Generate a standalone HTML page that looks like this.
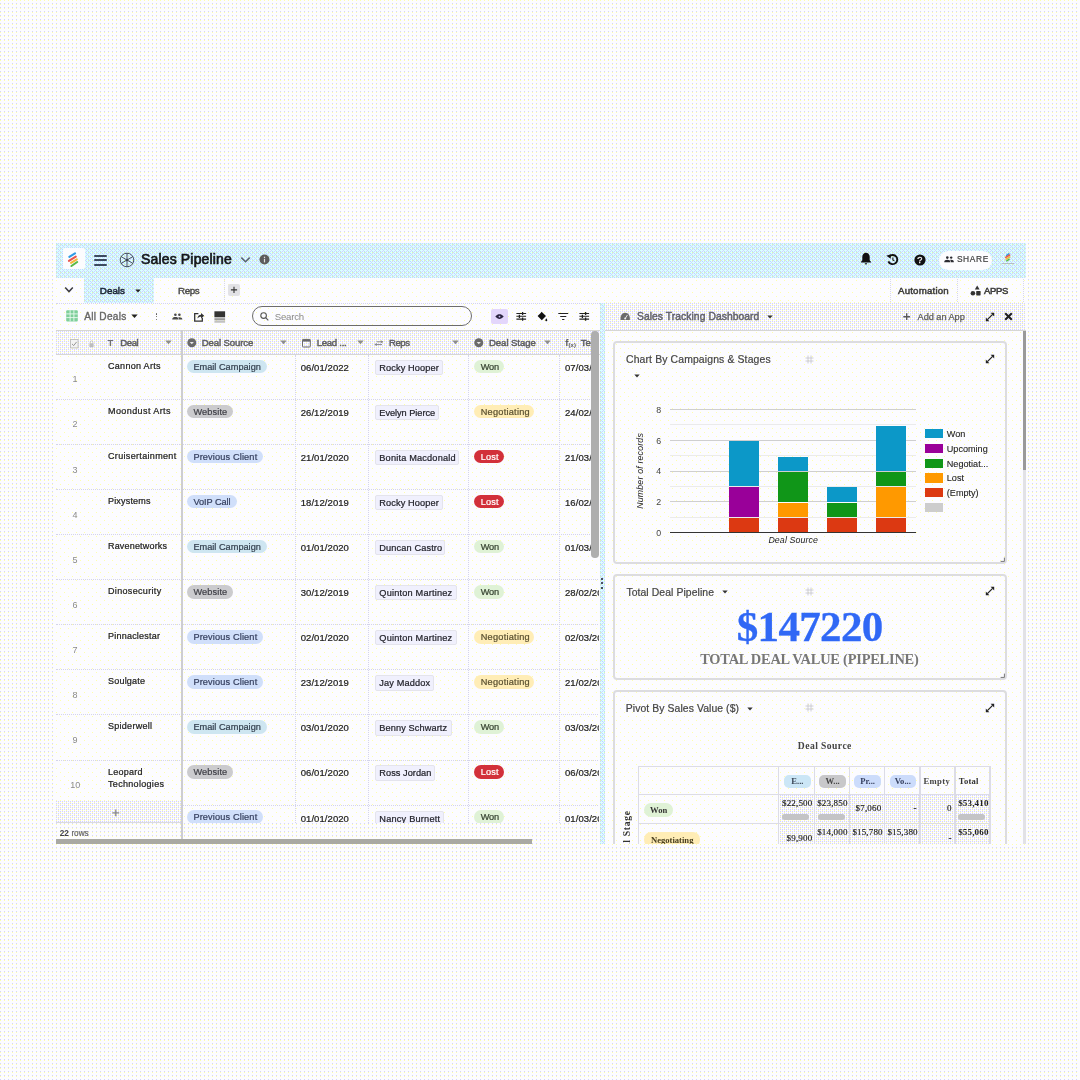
<!DOCTYPE html>
<html lang="en">
<head>
<meta charset="utf-8">
<title>Sales Pipeline</title>
<style>
html,body{margin:0;padding:0;}
body{width:1080px;height:1080px;position:relative;overflow:hidden;background:#fcfcfb;font-family:'Liberation Sans', sans-serif;}
main{position:absolute;left:0;top:0;width:1080px;height:1080px;overflow:hidden;}
main div,main svg,main .t{position:absolute;}
main svg{overflow:visible;}
.t{white-space:nowrap;margin:0;}
</style>
</head>
<body>
<main>
<svg style="left:0;top:0" width="1080" height="1080" shape-rendering="crispEdges"><defs><pattern id="pg" width="4" height="4" patternUnits="userSpaceOnUse"><rect width="4" height="4" fill="#fcfcff"/><rect x="0" y="3" width="1" height="1" fill="#d2d2ff"/><rect x="0" y="0" width="1" height="1" fill="#ffffaa"/></pattern><pattern id="hd" width="4" height="4" patternUnits="userSpaceOnUse"><rect width="4" height="4" fill="#dbffff"/><rect x="0" y="0" width="1" height="1" fill="#dbffaa"/><rect x="1" y="0" width="1" height="1" fill="#d2d2ff"/><rect x="0" y="1" width="1" height="1" fill="#d2d2ff"/><rect x="2" y="1" width="1" height="1" fill="#b6dbff"/><rect x="3" y="2" width="1" height="1" fill="#d2d2ff"/><rect x="0" y="3" width="1" height="1" fill="#b6dbff"/><rect x="2" y="3" width="1" height="1" fill="#d2d2ff"/></pattern><pattern id="ch" width="4" height="4" patternUnits="userSpaceOnUse"><rect width="4" height="4" fill="#fcfcff"/><rect x="0" y="0" width="1" height="1" fill="#ffffaa"/><rect x="0" y="1" width="1" height="1" fill="#d2d2ff"/><rect x="2" y="1" width="1" height="1" fill="#d2d2ff"/><rect x="2" y="2" width="1" height="1" fill="#ffffaa"/><rect x="0" y="3" width="1" height="1" fill="#d2d2ff"/><rect x="2" y="3" width="1" height="1" fill="#d2d2ff"/></pattern><pattern id="aw" width="8" height="8" patternUnits="userSpaceOnUse"><rect width="8" height="8" fill="#fcfcff"/><rect x="0" y="0" width="1" height="1" fill="#ffffaa"/><rect x="4" y="4" width="1" height="1" fill="#ffffaa"/></pattern></defs><rect width="1080" height="1080" fill="url(#pg)"/></svg>
<svg style="left:0;top:0" width="1080" height="1080" shape-rendering="crispEdges"><rect x="56" y="243" width="970" height="601" fill="url(#aw)"/></svg>
<header>
<svg style="left:0;top:0" width="1080" height="1080" shape-rendering="crispEdges"><rect x="56" y="243" width="970" height="35" fill="url(#hd)"/></svg>
<div style="left:63px;top:248px;width:21.5px;height:21px;background:#fcfcfe;border-radius:2px;"></div>
<svg style="left:63px;top:248px;" width="21.5" height="21" viewBox="0 0 21.5 21"><g stroke-linecap="round" stroke-width="2.1" fill="none">
<path d="M6.3 8.8L12.0 5.4" stroke="#2f9be6"/>
<path d="M5.9 12.8L12.8 8.7" stroke="#e8554d"/>
<path d="M8.0 14.8L13.8 11.3" stroke="#f4b73a"/>
<path d="M8.4 18.0L14.2 14.0" stroke="#58b947"/></g></svg>
<div style="left:93.9px;top:254.75px;width:13.4px;height:1.9px;background:#3d4a5e;border-radius:1px;"></div>
<div style="left:93.9px;top:259.05px;width:13.4px;height:1.9px;background:#3d4a5e;border-radius:1px;"></div>
<div style="left:93.9px;top:263.75px;width:13.4px;height:1.9px;background:#3d4a5e;border-radius:1px;"></div>
<svg style="left:118.5px;top:251.75px;" width="16" height="16" viewBox="0 0 16 16"><g fill="none" stroke="#3a4350" stroke-width="0.9">
<circle cx="8" cy="8" r="6.8"/><path d="M8 1.2V8M8 8L2.1 4.6M8 8L2.1 11.4M8 8V14.8M8 8L13.9 11.4M8 8L13.9 4.6"/></g><circle cx="8" cy="8" r="1.3" fill="#3a4350"/></svg>
<h1 class="t" style="left:141.00px;top:250.90px;font:400 14px 'Liberation Sans', sans-serif;line-height:16.8px;color:#14161a;letter-spacing:0.159px;-webkit-text-stroke:0.65px #14161a;">Sales Pipeline</h1>
<svg style="left:239.5px;top:255px;" width="11" height="9" viewBox="0 0 11 9"><path d="M1.3 2.6L5.5 6.8L9.7 2.6" fill="none" stroke="#5a6670" stroke-width="1.5"/></svg>
<svg style="left:259.4px;top:254.4px;" width="11" height="11" viewBox="0 0 11 11"><circle cx="5.5" cy="5.5" r="5" fill="#5c5c5c"/><rect x="4.9" y="4.8" width="1.2" height="3.6" fill="#ddd"/><rect x="4.9" y="2.7" width="1.2" height="1.3" fill="#ddd"/></svg>
<svg style="left:860px;top:252.4px;" width="11.3" height="12.2" viewBox="0 0 11.3 12.2"><path d="M6 0.8C3.7 0.8 2.3 2.7 2.3 5V8.2L0.9 9.9V10.5H11.1V9.9L9.7 8.2V5C9.7 2.7 8.3 0.8 6 0.8Z" fill="#111"/><path d="M4.8 11.2A1.2 1.2 0 0 0 7.2 11.2Z" fill="#111"/></svg>
<svg style="left:885.6px;top:253px;" width="13" height="13" viewBox="0 0 13 13"><path d="M3.4 3.3A4.6 4.6 0 1 1 2.4 8.3" fill="none" stroke="#111" stroke-width="1.9"/><path d="M0.8 1.8L5.4 2.0L3.9 6.2Z" fill="#111" transform="rotate(-20 3 3.5)"/><path d="M6.9 4.6V7L8.4 7.9" fill="none" stroke="#111" stroke-width="1.1"/></svg>
<svg style="left:913.8px;top:253.5px;" width="12" height="12" viewBox="0 0 12 12"><circle cx="6" cy="6" r="5.6" fill="#111"/></svg>
<span class="t" style="left:917.24px;top:254.80px;font:400 9.2px 'Liberation Sans', sans-serif;line-height:11.04px;color:#f4f4f4;-webkit-text-stroke:0.3px #f4f4f4;">?</span>
<div style="left:939.3px;top:250.6px;width:53px;height:19px;background:#fcfcfe;border-radius:9.5px;"></div>
<svg style="left:944.2px;top:255.8px;" width="10" height="6.4" viewBox="0 0 10 6.4"><g fill="#2a2a30"><circle cx="3.3" cy="1.6" r="1.3"/><circle cx="7.2" cy="1.6" r="1.2"/><path d="M0.2 6.2C0.2 4.5 1.6 3.8 3.3 3.8S6.4 4.5 6.4 6.2Z"/><path d="M6.9 6.2C6.9 5.1 6.6 4.5 6 4C8 3.5 9.9 4.2 9.9 6.2Z"/></g></svg>
<span class="t" style="left:956.90px;top:254.40px;font:400 8.4px 'Liberation Sans', sans-serif;line-height:10.08px;color:#404040;letter-spacing:0.635px;-webkit-text-stroke:0.2px #404040;">SHARE</span>
<svg style="left:1000.8px;top:252.3px;" width="14.2" height="13.6" viewBox="0 0 14.2 13.6"><g stroke-linecap="round" stroke-width="1.5" fill="none">
<path d="M5.6 3.4L7.8 1.8" stroke="#2f9be6"/><path d="M4.8 5.4L8.6 3" stroke="#e8554d"/>
<path d="M5 7.2L8.8 4.8" stroke="#f4b73a"/><path d="M5.8 8.8L8.2 7.2" stroke="#58b947"/></g>
<rect x="0.6" y="11" width="12.6" height="1" fill="#b4bcc4"/></svg>
</header>
<nav>
<svg style="left:0;top:0" width="1080" height="1080" shape-rendering="crispEdges"><rect x="84" y="278" width="70" height="25" fill="url(#hd)"/></svg>
<svg style="left:64.2px;top:286.4px;" width="10" height="8" viewBox="0 0 10 8"><path d="M1.2 1.6L5 5.6L8.8 1.6" fill="none" stroke="#3c3c44" stroke-width="1.5"/></svg>
<span class="t" style="left:99.80px;top:285.20px;font:400 9.8px 'Liberation Sans', sans-serif;line-height:11.76px;color:#1a2434;letter-spacing:0.034px;-webkit-text-stroke:0.5px #1a2434;">Deals</span>
<svg style="left:134.6px;top:288.6px;" width="6" height="4" viewBox="0 0 6 4"><path d="M0.3 0.4H5.7L3 3.6Z" fill="#222"/></svg>
<span class="t" style="left:178.00px;top:285.20px;font:400 9.8px 'Liberation Sans', sans-serif;line-height:11.76px;color:#4a4a4a;letter-spacing:-0.425px;-webkit-text-stroke:0.4px #4a4a4a;">Reps</span>
<div style="left:223.5px;top:279px;width:0px;height:23px;border-left:1px dotted #d8d8e8;"></div>
<div style="left:228px;top:283.8px;width:12px;height:11.8px;background:#e2e2e6;border-radius:2px;"></div>
<svg style="left:228px;top:283.8px;" width="12" height="11.8" viewBox="0 0 12 11.8"><path d="M6 2.8V9M2.9 5.9H9.1" stroke="#333" stroke-width="1.1" fill="none"/></svg>
<div style="left:890px;top:279px;width:0px;height:23px;border-left:1px dotted #d8d8e8;"></div>
<div style="left:956.5px;top:279px;width:0px;height:23px;border-left:1px dotted #d8d8e8;"></div>
<div style="left:1022.5px;top:279px;width:0px;height:23px;border-left:1px dotted #d8d8e8;"></div>
<span class="t" style="left:898.00px;top:285.30px;font:400 9.7px 'Liberation Sans', sans-serif;line-height:11.64px;color:#3c3c3c;letter-spacing:0.187px;-webkit-text-stroke:0.5px #3c3c3c;">Automation</span>
<svg style="left:970.2px;top:284.8px;" width="11.5" height="11.5" viewBox="0 0 11.5 11.5"><g fill="#333"><path d="M7.2 0.6L9.6 4.4H4.8Z"/><circle cx="2.9" cy="8.2" r="2.3"/><rect x="6.2" y="6" width="4.4" height="4.4" rx="0.6"/></g></svg>
<span class="t" style="left:984.10px;top:285.30px;font:400 9.5px 'Liberation Sans', sans-serif;line-height:11.4px;color:#3c3c3c;letter-spacing:-0.386px;-webkit-text-stroke:0.5px #3c3c3c;">APPS</span>
</nav>
<section>
<svg style="left:66px;top:310px;" width="12" height="11.6" viewBox="0 0 12 11.6"><rect x="0.2" y="0.2" width="11.6" height="11.2" rx="1" fill="#7fcf9a"/>
<g stroke="#eafaf0" stroke-width="0.9"><path d="M4.1 0.2V11.4M7.9 0.2V11.4M0.2 4V4M0.2 3.9H11.8M0.2 7.6H11.8"/></g></svg>
<span class="t" style="left:84.20px;top:311.10px;font:400 10.1px 'Liberation Sans', sans-serif;line-height:12.12px;color:#666;letter-spacing:0.284px;-webkit-text-stroke:0.35px #666;">All Deals</span>
<div style="left:56px;top:303px;width:544px;height:0px;border-top:1px dotted #d4d4ee;"></div>
<svg style="left:131.3px;top:314.3px;" width="7" height="4.5" viewBox="0 0 7 4.5"><path d="M0.3 0.4H6.7L3.5 4.1Z" fill="#222"/></svg>
<div style="left:155.6px;top:313.3px;width:1.4px;height:1.4px;background:#555;border-radius:1px;"></div>
<div style="left:155.6px;top:316.1px;width:1.4px;height:1.4px;background:#555;border-radius:1px;"></div>
<div style="left:155.6px;top:318.9px;width:1.4px;height:1.4px;background:#555;border-radius:1px;"></div>
<svg style="left:172.3px;top:313.4px;" width="10.6" height="7" viewBox="0 0 10.6 7"><g fill="#4a4a4a"><circle cx="3.4" cy="1.7" r="1.3"/><circle cx="7.4" cy="1.7" r="1.3"/><path d="M0.2 6.4C0.2 4.6 1.7 4 3.4 4S6.4 4.6 6.6 6.4Z"/><path d="M6.9 6.4C6.9 5.4 6.6 4.7 6.2 4.3C8.2 3.8 10.4 4.5 10.4 6.4Z"/></g></svg>
<svg style="left:193px;top:310.6px;" width="11.5" height="11.5" viewBox="0 0 11.5 11.5"><path d="M5.4 2.6H1.7V10.2H9.3V6.8" fill="none" stroke="#333" stroke-width="1.3"/><path d="M4.4 7.6C4.6 5.2 6 3.9 8 3.8V2L11.2 4.8L8 7.6V5.8C6.6 5.8 5.4 6.3 4.4 7.6Z" fill="#333"/></svg>
<svg style="left:213.8px;top:310.6px;" width="11.5" height="12.4" viewBox="0 0 11.5 12.4"><rect x="0.4" y="0.3" width="10.7" height="6" fill="#333"/><rect x="0.4" y="7.2" width="10.7" height="2.2" fill="#999"/><rect x="0.4" y="10.1" width="10.7" height="1.6" fill="#bbb"/></svg>
<div style="left:252px;top:306.3px;width:219.6px;height:20px;border:1px solid #6c6c6c;border-radius:10.5px;box-sizing:border-box;"></div>
<svg style="left:259.6px;top:311.8px;" width="9" height="9" viewBox="0 0 9 9"><circle cx="3.6" cy="3.6" r="2.8" fill="none" stroke="#555" stroke-width="1.1"/><path d="M5.7 5.7L8.3 8.3" stroke="#555" stroke-width="1.2"/></svg>
<span class="t" style="left:274.70px;top:310.90px;font:400 9.6px 'Liberation Sans', sans-serif;line-height:11.52px;color:#8a8a8a;letter-spacing:-0.181px;">Search</span>
<div style="left:490.8px;top:309.2px;width:16.8px;height:15.2px;background:#e3d6fb;border-radius:2px;"></div>
<svg style="left:495.4px;top:314.3px;" width="9" height="5.2" viewBox="0 0 9 5.2"><path d="M0.3 2.6C1.7 0.8 3.1 0.3 4.5 0.3S7.3 0.8 8.7 2.6C7.3 4.4 5.9 4.9 4.5 4.9S1.7 4.4 0.3 2.6Z" fill="#2a2340"/><circle cx="4.5" cy="2.6" r="0.9" fill="#cbbdf0"/></svg>
<svg style="left:515.6px;top:311.4px;" width="10.5" height="10.5" viewBox="0 0 10.5 10.5"><g stroke="#222" stroke-width="1.1" fill="none"><path d="M0.4 2.5H10.1M0.4 5.3H10.1M0.4 8.1H10.1"/><path d="M6.6 0.9V4.1M3.4 3.8V6.9M6.6 6.5V9.7" stroke-width="1.3"/></g></svg>
<svg style="left:536.5px;top:311px;" width="10.6" height="11" viewBox="0 0 10.6 11"><path d="M4.6 0.7L9 5.1L4.8 9.3L0.6 5.1L3.7 2Z" fill="#111"/><path d="M9.3 7.2C9.9 8.1 10.3 8.7 10.3 9.2A1 1 0 0 1 8.3 9.2C8.3 8.7 8.7 8.1 9.3 7.2Z" fill="#111"/></svg>
<svg style="left:557.8px;top:312px;" width="10.5" height="9" viewBox="0 0 10.5 9"><g stroke="#222" stroke-width="1.2" fill="none"><path d="M0.3 1.5H10.2M2.2 4.5H8.3M4.1 7.5H6.4"/></g></svg>
<svg style="left:578.8px;top:311.4px;" width="10.5" height="10.5" viewBox="0 0 10.5 10.5"><g stroke="#222" stroke-width="1.1" fill="none"><path d="M0.4 2.5H10.1M0.4 5.3H10.1M0.4 8.1H10.1"/><path d="M6.6 0.9V4.1M3.4 3.8V6.9M6.6 6.5V9.7" stroke-width="1.3"/></g></svg>
<svg style="left:0;top:0" width="1080" height="1080" shape-rendering="crispEdges"><rect x="56" y="330" width="544" height="25" fill="url(#ch)"/></svg>
<div style="left:56px;top:330px;width:544px;height:1px;background:#d6d6d0;"></div>
<div style="left:56px;top:354px;width:544px;height:1px;background:#d6d6d4;"></div>
<svg style="left:70px;top:338.6px;" width="8.6" height="9.4" viewBox="0 0 8.6 9.4"><rect x="0.5" y="0.5" width="7.6" height="8.4" fill="#f4f4f4" stroke="#bdbdbd" stroke-width="0.9"/><path d="M2 4.9L3.7 6.6L6.6 2.9" fill="none" stroke="#8a8a8a" stroke-width="0.9"/></svg>
<svg style="left:89px;top:339.6px;" width="5" height="7.6" viewBox="0 0 5 7.6"><rect x="0.4" y="3.2" width="4.2" height="4" rx="0.6" fill="#bdbdbd"/><path d="M1.2 3.4V2.2A1.3 1.3 0 0 1 3.8 2.2V3.4" fill="none" stroke="#bdbdbd" stroke-width="0.8"/></svg>
<span class="t" style="left:107.50px;top:337.10px;font:700 9.6px 'Liberation Sans', sans-serif;line-height:11.52px;color:#707070;">T</span>
<span class="t" style="left:120.30px;top:336.90px;font:400 9.6px 'Liberation Sans', sans-serif;line-height:11.52px;color:#5e5e62;letter-spacing:-0.445px;-webkit-text-stroke:0.45px #5e5e62;">Deal</span>
<svg style="left:164.8px;top:339.9px;" width="7" height="4.6" viewBox="0 0 7 4.6"><path d="M0.3 0.4H6.7L3.5 4.2Z" fill="#8c8c8c"/></svg>
<svg style="left:186.9px;top:337.6px;" width="9.6" height="9.6" viewBox="0 0 9.6 9.6"><circle cx="4.8" cy="4.8" r="4.5" fill="#6a6a6a"/><path d="M2.7 4L4.8 6.3L6.9 4Z" fill="#e8e8e8"/></svg>
<span class="t" style="left:201.70px;top:336.90px;font:400 9.6px 'Liberation Sans', sans-serif;line-height:11.52px;color:#5e5e62;letter-spacing:-0.120px;-webkit-text-stroke:0.45px #5e5e62;">Deal Source</span>
<svg style="left:279.6px;top:339.9px;" width="7" height="4.6" viewBox="0 0 7 4.6"><path d="M0.3 0.4H6.7L3.5 4.2Z" fill="#8c8c8c"/></svg>
<svg style="left:302.4px;top:337.6px;" width="8.8" height="9.6" viewBox="0 0 8.8 9.6"><rect x="0.5" y="1.4" width="7.8" height="7.6" rx="0.9" fill="none" stroke="#6a6a6a" stroke-width="1"/><rect x="0.5" y="1.4" width="7.8" height="2.2" fill="#6a6a6a"/></svg>
<span class="t" style="left:316.70px;top:336.90px;font:400 9.6px 'Liberation Sans', sans-serif;line-height:11.52px;color:#5e5e62;letter-spacing:-0.288px;-webkit-text-stroke:0.45px #5e5e62;">Lead ...</span>
<svg style="left:357.3px;top:339.9px;" width="7" height="4.6" viewBox="0 0 7 4.6"><path d="M0.3 0.4H6.7L3.5 4.2Z" fill="#8c8c8c"/></svg>
<svg style="left:374px;top:339.6px;" width="9.6" height="6.4" viewBox="0 0 9.6 6.4"><g fill="none" stroke="#8a8a8a" stroke-width="1"><path d="M1 4.6H8M2.6 1.8H9"/></g><path d="M6.8 0.3L9.4 1.8L6.8 3.3Z" fill="#8a8a8a"/><path d="M2.8 3.1L0.2 4.6L2.8 6.1Z" fill="#8a8a8a"/></svg>
<span class="t" style="left:389.00px;top:336.90px;font:400 9.6px 'Liberation Sans', sans-serif;line-height:11.52px;color:#5e5e62;letter-spacing:-0.469px;-webkit-text-stroke:0.45px #5e5e62;">Reps</span>
<svg style="left:452.3px;top:339.9px;" width="7" height="4.6" viewBox="0 0 7 4.6"><path d="M0.3 0.4H6.7L3.5 4.2Z" fill="#8c8c8c"/></svg>
<svg style="left:474.4px;top:337.6px;" width="9.6" height="9.6" viewBox="0 0 9.6 9.6"><circle cx="4.8" cy="4.8" r="4.5" fill="#6a6a6a"/><path d="M2.7 4L4.8 6.3L6.9 4Z" fill="#e8e8e8"/></svg>
<span class="t" style="left:489.00px;top:336.90px;font:400 9.6px 'Liberation Sans', sans-serif;line-height:11.52px;color:#5e5e62;letter-spacing:-0.074px;-webkit-text-stroke:0.45px #5e5e62;">Deal Stage</span>
<svg style="left:543.6px;top:339.9px;" width="7" height="4.6" viewBox="0 0 7 4.6"><path d="M0.3 0.4H6.7L3.5 4.2Z" fill="#8c8c8c"/></svg>
<span class="t" style="left:565.30px;top:336.90px;font:700 9.6px 'Liberation Sans', sans-serif;line-height:11.52px;color:#5e5e62;">f</span>
<span class="t" style="left:568.60px;top:341.50px;font:700 6px 'Liberation Sans', sans-serif;line-height:7.2px;color:#5e5e62;">(x)</span>
<span class="t" style="left:580.80px;top:336.90px;font:400 9.6px 'Liberation Sans', sans-serif;line-height:11.52px;color:#5e5e62;-webkit-text-stroke:0.45px #5e5e62;">Text</span>
<span class="t" style="left:108.00px;top:360.90px;font:400 9px 'Liberation Sans', sans-serif;line-height:10.8px;color:#222;letter-spacing:0.297px;-webkit-text-stroke:0.22px #222;">Cannon Arts</span>
<span class="t" style="left:72.49px;top:374.40px;font:400 9px 'Liberation Sans', sans-serif;line-height:10.8px;color:#8a8a8a;">1</span>
<div style="left:187.4px;top:359.7px;width:79.5px;height:13.5px;background:#cee6f1;border-radius:7px;"></div>
<span class="t" style="left:193.40px;top:361.80px;font:400 9.2px 'Liberation Sans', sans-serif;line-height:11.04px;color:#34404f;letter-spacing:0.007px;-webkit-text-stroke:0.22px #34404f;">Email Campaign</span>
<span class="t" style="left:300.70px;top:361.90px;font:400 9.5px 'Liberation Sans', sans-serif;line-height:11.4px;color:#222;letter-spacing:0.073px;-webkit-text-stroke:0.22px #222;">06/01/2022</span>
<div style="left:375px;top:359.9px;width:67.7px;height:15.2px;background:#f0f0fd;border-radius:2px;border:1px solid #e4e4ec;box-sizing:border-box;"></div>
<span class="t" style="left:379.30px;top:362.90px;font:400 9.2px 'Liberation Sans', sans-serif;line-height:11.04px;color:#23232b;letter-spacing:0.116px;-webkit-text-stroke:0.22px #23232b;">Rocky Hooper</span>
<div style="left:474.4px;top:359.7px;width:30px;height:13.5px;background:#dff2d6;border-radius:7px;"></div>
<span class="t" style="left:480.70px;top:361.80px;font:400 9.2px 'Liberation Sans', sans-serif;line-height:11.04px;color:#33402f;letter-spacing:-0.167px;-webkit-text-stroke:0.22px #33402f;">Won</span>
<span class="t" style="left:565.00px;top:361.90px;font:400 9.5px 'Liberation Sans', sans-serif;line-height:11.4px;color:#222;letter-spacing:0.073px;-webkit-text-stroke:0.22px #222;">07/03/2022</span>
<div style="left:56px;top:399.06px;width:544px;height:0px;border-top:1px dotted #d4d4ea;"></div>
<span class="t" style="left:108.00px;top:405.96px;font:400 9px 'Liberation Sans', sans-serif;line-height:10.8px;color:#222;letter-spacing:0.414px;-webkit-text-stroke:0.22px #222;">Moondust Arts</span>
<span class="t" style="left:72.49px;top:419.46px;font:400 9px 'Liberation Sans', sans-serif;line-height:10.8px;color:#8a8a8a;">2</span>
<div style="left:187.4px;top:404.76px;width:45.5px;height:13.5px;background:#cbcbce;border-radius:7px;"></div>
<span class="t" style="left:193.40px;top:406.86px;font:400 9.2px 'Liberation Sans', sans-serif;line-height:11.04px;color:#3f3f46;letter-spacing:0.128px;-webkit-text-stroke:0.22px #3f3f46;">Website</span>
<span class="t" style="left:300.70px;top:406.96px;font:400 9.5px 'Liberation Sans', sans-serif;line-height:11.4px;color:#222;letter-spacing:0.073px;-webkit-text-stroke:0.22px #222;">26/12/2019</span>
<div style="left:375px;top:404.96px;width:64.2px;height:15.2px;background:#f0f0fd;border-radius:2px;border:1px solid #e4e4ec;box-sizing:border-box;"></div>
<span class="t" style="left:379.30px;top:407.96px;font:400 9.2px 'Liberation Sans', sans-serif;line-height:11.04px;color:#23232b;letter-spacing:-0.031px;-webkit-text-stroke:0.22px #23232b;">Evelyn Pierce</span>
<div style="left:474.4px;top:404.76px;width:60px;height:13.5px;background:#ffedb6;border-radius:7px;"></div>
<span class="t" style="left:480.70px;top:406.86px;font:400 9.2px 'Liberation Sans', sans-serif;line-height:11.04px;color:#5a5030;letter-spacing:0.252px;-webkit-text-stroke:0.22px #5a5030;">Negotiating</span>
<span class="t" style="left:565.00px;top:406.96px;font:400 9.5px 'Liberation Sans', sans-serif;line-height:11.4px;color:#222;letter-spacing:0.073px;-webkit-text-stroke:0.22px #222;">24/02/2020</span>
<div style="left:56px;top:444.12px;width:544px;height:0px;border-top:1px dotted #d4d4ea;"></div>
<span class="t" style="left:108.00px;top:451.02px;font:400 9px 'Liberation Sans', sans-serif;line-height:10.8px;color:#222;letter-spacing:0.333px;-webkit-text-stroke:0.22px #222;">Cruisertainment</span>
<span class="t" style="left:72.49px;top:464.52px;font:400 9px 'Liberation Sans', sans-serif;line-height:10.8px;color:#8a8a8a;">3</span>
<div style="left:187.4px;top:449.82px;width:75.6px;height:13.5px;background:#d0dffa;border-radius:7px;"></div>
<span class="t" style="left:193.40px;top:451.92px;font:400 9.2px 'Liberation Sans', sans-serif;line-height:11.04px;color:#36405f;letter-spacing:0.143px;-webkit-text-stroke:0.22px #36405f;">Previous Client</span>
<span class="t" style="left:300.70px;top:452.02px;font:400 9.5px 'Liberation Sans', sans-serif;line-height:11.4px;color:#222;letter-spacing:0.073px;-webkit-text-stroke:0.22px #222;">21/01/2020</span>
<div style="left:375px;top:450.02px;width:83.5px;height:15.2px;background:#f0f0fd;border-radius:2px;border:1px solid #e4e4ec;box-sizing:border-box;"></div>
<span class="t" style="left:379.30px;top:453.02px;font:400 9.2px 'Liberation Sans', sans-serif;line-height:11.04px;color:#23232b;letter-spacing:0.182px;-webkit-text-stroke:0.22px #23232b;">Bonita Macdonald</span>
<div style="left:474.4px;top:449.82px;width:29.8px;height:13.5px;background:#d2303a;border-radius:7px;"></div>
<span class="t" style="left:480.70px;top:451.92px;font:400 9.2px 'Liberation Sans', sans-serif;line-height:11.04px;color:#fff;letter-spacing:0.142px;-webkit-text-stroke:0.22px #fff;">Lost</span>
<span class="t" style="left:565.00px;top:452.02px;font:400 9.5px 'Liberation Sans', sans-serif;line-height:11.4px;color:#222;letter-spacing:0.073px;-webkit-text-stroke:0.22px #222;">21/03/2020</span>
<div style="left:56px;top:489.18px;width:544px;height:0px;border-top:1px dotted #d4d4ea;"></div>
<span class="t" style="left:108.00px;top:496.08px;font:400 9px 'Liberation Sans', sans-serif;line-height:10.8px;color:#222;letter-spacing:0.186px;-webkit-text-stroke:0.22px #222;">Pixystems</span>
<span class="t" style="left:72.49px;top:509.58px;font:400 9px 'Liberation Sans', sans-serif;line-height:10.8px;color:#8a8a8a;">4</span>
<div style="left:187.4px;top:494.88px;width:49.2px;height:13.5px;background:#d0dffa;border-radius:7px;"></div>
<span class="t" style="left:193.40px;top:496.98px;font:400 9.2px 'Liberation Sans', sans-serif;line-height:11.04px;color:#36405f;letter-spacing:-0.053px;-webkit-text-stroke:0.22px #36405f;">VoIP Call</span>
<span class="t" style="left:300.70px;top:497.08px;font:400 9.5px 'Liberation Sans', sans-serif;line-height:11.4px;color:#222;letter-spacing:0.073px;-webkit-text-stroke:0.22px #222;">18/12/2019</span>
<div style="left:375px;top:495.08px;width:67.7px;height:15.2px;background:#f0f0fd;border-radius:2px;border:1px solid #e4e4ec;box-sizing:border-box;"></div>
<span class="t" style="left:379.30px;top:498.08px;font:400 9.2px 'Liberation Sans', sans-serif;line-height:11.04px;color:#23232b;letter-spacing:0.116px;-webkit-text-stroke:0.22px #23232b;">Rocky Hooper</span>
<div style="left:474.4px;top:494.88px;width:29.8px;height:13.5px;background:#d2303a;border-radius:7px;"></div>
<span class="t" style="left:480.70px;top:496.98px;font:400 9.2px 'Liberation Sans', sans-serif;line-height:11.04px;color:#fff;letter-spacing:0.142px;-webkit-text-stroke:0.22px #fff;">Lost</span>
<span class="t" style="left:565.00px;top:497.08px;font:400 9.5px 'Liberation Sans', sans-serif;line-height:11.4px;color:#222;letter-spacing:0.073px;-webkit-text-stroke:0.22px #222;">16/02/2020</span>
<div style="left:56px;top:534.24px;width:544px;height:0px;border-top:1px dotted #d4d4ea;"></div>
<span class="t" style="left:108.00px;top:541.14px;font:400 9px 'Liberation Sans', sans-serif;line-height:10.8px;color:#222;letter-spacing:0.179px;-webkit-text-stroke:0.22px #222;">Ravenetworks</span>
<span class="t" style="left:72.49px;top:554.64px;font:400 9px 'Liberation Sans', sans-serif;line-height:10.8px;color:#8a8a8a;">5</span>
<div style="left:187.4px;top:539.94px;width:79.5px;height:13.5px;background:#cee6f1;border-radius:7px;"></div>
<span class="t" style="left:193.40px;top:542.04px;font:400 9.2px 'Liberation Sans', sans-serif;line-height:11.04px;color:#34404f;letter-spacing:0.007px;-webkit-text-stroke:0.22px #34404f;">Email Campaign</span>
<span class="t" style="left:300.70px;top:542.14px;font:400 9.5px 'Liberation Sans', sans-serif;line-height:11.4px;color:#222;letter-spacing:0.073px;-webkit-text-stroke:0.22px #222;">01/01/2020</span>
<div style="left:375px;top:540.14px;width:70.2px;height:15.2px;background:#f0f0fd;border-radius:2px;border:1px solid #e4e4ec;box-sizing:border-box;"></div>
<span class="t" style="left:379.30px;top:543.14px;font:400 9.2px 'Liberation Sans', sans-serif;line-height:11.04px;color:#23232b;letter-spacing:0.127px;-webkit-text-stroke:0.22px #23232b;">Duncan Castro</span>
<div style="left:474.4px;top:539.94px;width:30px;height:13.5px;background:#dff2d6;border-radius:7px;"></div>
<span class="t" style="left:480.70px;top:542.04px;font:400 9.2px 'Liberation Sans', sans-serif;line-height:11.04px;color:#33402f;letter-spacing:-0.167px;-webkit-text-stroke:0.22px #33402f;">Won</span>
<span class="t" style="left:565.00px;top:542.14px;font:400 9.5px 'Liberation Sans', sans-serif;line-height:11.4px;color:#222;letter-spacing:0.073px;-webkit-text-stroke:0.22px #222;">01/03/2020</span>
<div style="left:56px;top:579.3px;width:544px;height:0px;border-top:1px dotted #d4d4ea;"></div>
<span class="t" style="left:108.00px;top:586.20px;font:400 9px 'Liberation Sans', sans-serif;line-height:10.8px;color:#222;letter-spacing:0.334px;-webkit-text-stroke:0.22px #222;">Dinosecurity</span>
<span class="t" style="left:72.49px;top:599.70px;font:400 9px 'Liberation Sans', sans-serif;line-height:10.8px;color:#8a8a8a;">6</span>
<div style="left:187.4px;top:585px;width:45.5px;height:13.5px;background:#cbcbce;border-radius:7px;"></div>
<span class="t" style="left:193.40px;top:587.10px;font:400 9.2px 'Liberation Sans', sans-serif;line-height:11.04px;color:#3f3f46;letter-spacing:0.128px;-webkit-text-stroke:0.22px #3f3f46;">Website</span>
<span class="t" style="left:300.70px;top:587.20px;font:400 9.5px 'Liberation Sans', sans-serif;line-height:11.4px;color:#222;letter-spacing:0.073px;-webkit-text-stroke:0.22px #222;">30/12/2019</span>
<div style="left:375px;top:585.2px;width:81.5px;height:15.2px;background:#f0f0fd;border-radius:2px;border:1px solid #e4e4ec;box-sizing:border-box;"></div>
<span class="t" style="left:379.30px;top:588.20px;font:400 9.2px 'Liberation Sans', sans-serif;line-height:11.04px;color:#23232b;letter-spacing:0.189px;-webkit-text-stroke:0.22px #23232b;">Quinton Martinez</span>
<div style="left:474.4px;top:585px;width:30px;height:13.5px;background:#dff2d6;border-radius:7px;"></div>
<span class="t" style="left:480.70px;top:587.10px;font:400 9.2px 'Liberation Sans', sans-serif;line-height:11.04px;color:#33402f;letter-spacing:-0.167px;-webkit-text-stroke:0.22px #33402f;">Won</span>
<span class="t" style="left:565.00px;top:587.20px;font:400 9.5px 'Liberation Sans', sans-serif;line-height:11.4px;color:#222;letter-spacing:0.073px;-webkit-text-stroke:0.22px #222;">28/02/2020</span>
<div style="left:56px;top:624.36px;width:544px;height:0px;border-top:1px dotted #d4d4ea;"></div>
<span class="t" style="left:108.00px;top:631.26px;font:400 9px 'Liberation Sans', sans-serif;line-height:10.8px;color:#222;letter-spacing:0.224px;-webkit-text-stroke:0.22px #222;">Pinnaclestar</span>
<span class="t" style="left:72.49px;top:644.76px;font:400 9px 'Liberation Sans', sans-serif;line-height:10.8px;color:#8a8a8a;">7</span>
<div style="left:187.4px;top:630.06px;width:75.6px;height:13.5px;background:#d0dffa;border-radius:7px;"></div>
<span class="t" style="left:193.40px;top:632.16px;font:400 9.2px 'Liberation Sans', sans-serif;line-height:11.04px;color:#36405f;letter-spacing:0.143px;-webkit-text-stroke:0.22px #36405f;">Previous Client</span>
<span class="t" style="left:300.70px;top:632.26px;font:400 9.5px 'Liberation Sans', sans-serif;line-height:11.4px;color:#222;letter-spacing:0.073px;-webkit-text-stroke:0.22px #222;">02/01/2020</span>
<div style="left:375px;top:630.26px;width:81.5px;height:15.2px;background:#f0f0fd;border-radius:2px;border:1px solid #e4e4ec;box-sizing:border-box;"></div>
<span class="t" style="left:379.30px;top:633.26px;font:400 9.2px 'Liberation Sans', sans-serif;line-height:11.04px;color:#23232b;letter-spacing:0.189px;-webkit-text-stroke:0.22px #23232b;">Quinton Martinez</span>
<div style="left:474.4px;top:630.06px;width:60px;height:13.5px;background:#ffedb6;border-radius:7px;"></div>
<span class="t" style="left:480.70px;top:632.16px;font:400 9.2px 'Liberation Sans', sans-serif;line-height:11.04px;color:#5a5030;letter-spacing:0.252px;-webkit-text-stroke:0.22px #5a5030;">Negotiating</span>
<span class="t" style="left:565.00px;top:632.26px;font:400 9.5px 'Liberation Sans', sans-serif;line-height:11.4px;color:#222;letter-spacing:0.073px;-webkit-text-stroke:0.22px #222;">02/03/2020</span>
<div style="left:56px;top:669.42px;width:544px;height:0px;border-top:1px dotted #d4d4ea;"></div>
<span class="t" style="left:108.00px;top:676.32px;font:400 9px 'Liberation Sans', sans-serif;line-height:10.8px;color:#222;letter-spacing:0.210px;-webkit-text-stroke:0.22px #222;">Soulgate</span>
<span class="t" style="left:72.49px;top:689.82px;font:400 9px 'Liberation Sans', sans-serif;line-height:10.8px;color:#8a8a8a;">8</span>
<div style="left:187.4px;top:675.12px;width:75.6px;height:13.5px;background:#d0dffa;border-radius:7px;"></div>
<span class="t" style="left:193.40px;top:677.22px;font:400 9.2px 'Liberation Sans', sans-serif;line-height:11.04px;color:#36405f;letter-spacing:0.143px;-webkit-text-stroke:0.22px #36405f;">Previous Client</span>
<span class="t" style="left:300.70px;top:677.32px;font:400 9.5px 'Liberation Sans', sans-serif;line-height:11.4px;color:#222;letter-spacing:0.073px;-webkit-text-stroke:0.22px #222;">23/12/2019</span>
<div style="left:375px;top:675.32px;width:59px;height:15.2px;background:#f0f0fd;border-radius:2px;border:1px solid #e4e4ec;box-sizing:border-box;"></div>
<span class="t" style="left:379.30px;top:678.32px;font:400 9.2px 'Liberation Sans', sans-serif;line-height:11.04px;color:#23232b;letter-spacing:0.139px;-webkit-text-stroke:0.22px #23232b;">Jay Maddox</span>
<div style="left:474.4px;top:675.12px;width:60px;height:13.5px;background:#ffedb6;border-radius:7px;"></div>
<span class="t" style="left:480.70px;top:677.22px;font:400 9.2px 'Liberation Sans', sans-serif;line-height:11.04px;color:#5a5030;letter-spacing:0.252px;-webkit-text-stroke:0.22px #5a5030;">Negotiating</span>
<span class="t" style="left:565.00px;top:677.32px;font:400 9.5px 'Liberation Sans', sans-serif;line-height:11.4px;color:#222;letter-spacing:0.073px;-webkit-text-stroke:0.22px #222;">21/02/2020</span>
<div style="left:56px;top:714.48px;width:544px;height:0px;border-top:1px dotted #d4d4ea;"></div>
<span class="t" style="left:108.00px;top:721.38px;font:400 9px 'Liberation Sans', sans-serif;line-height:10.8px;color:#222;letter-spacing:0.274px;-webkit-text-stroke:0.22px #222;">Spiderwell</span>
<span class="t" style="left:72.49px;top:734.88px;font:400 9px 'Liberation Sans', sans-serif;line-height:10.8px;color:#8a8a8a;">9</span>
<div style="left:187.4px;top:720.18px;width:79.5px;height:13.5px;background:#cee6f1;border-radius:7px;"></div>
<span class="t" style="left:193.40px;top:722.28px;font:400 9.2px 'Liberation Sans', sans-serif;line-height:11.04px;color:#34404f;letter-spacing:0.007px;-webkit-text-stroke:0.22px #34404f;">Email Campaign</span>
<span class="t" style="left:300.70px;top:722.38px;font:400 9.5px 'Liberation Sans', sans-serif;line-height:11.4px;color:#222;letter-spacing:0.073px;-webkit-text-stroke:0.22px #222;">03/01/2020</span>
<div style="left:375px;top:720.38px;width:77.2px;height:15.2px;background:#f0f0fd;border-radius:2px;border:1px solid #e4e4ec;box-sizing:border-box;"></div>
<span class="t" style="left:379.30px;top:723.38px;font:400 9.2px 'Liberation Sans', sans-serif;line-height:11.04px;color:#23232b;letter-spacing:0.108px;-webkit-text-stroke:0.22px #23232b;">Benny Schwartz</span>
<div style="left:474.4px;top:720.18px;width:30px;height:13.5px;background:#dff2d6;border-radius:7px;"></div>
<span class="t" style="left:480.70px;top:722.28px;font:400 9.2px 'Liberation Sans', sans-serif;line-height:11.04px;color:#33402f;letter-spacing:-0.167px;-webkit-text-stroke:0.22px #33402f;">Won</span>
<span class="t" style="left:565.00px;top:722.38px;font:400 9.5px 'Liberation Sans', sans-serif;line-height:11.4px;color:#222;letter-spacing:0.073px;-webkit-text-stroke:0.22px #222;">03/03/2020</span>
<div style="left:56px;top:759.54px;width:544px;height:0px;border-top:1px dotted #d4d4ea;"></div>
<span class="t" style="left:108.00px;top:766.84px;font:400 9px 'Liberation Sans', sans-serif;line-height:10.8px;color:#222;letter-spacing:0.245px;-webkit-text-stroke:0.22px #222;">Leopard</span>
<span class="t" style="left:108.00px;top:779.34px;font:400 9px 'Liberation Sans', sans-serif;line-height:10.8px;color:#222;letter-spacing:0.314px;-webkit-text-stroke:0.22px #222;">Technologies</span>
<span class="t" style="left:70.19px;top:779.94px;font:400 9px 'Liberation Sans', sans-serif;line-height:10.8px;color:#8a8a8a;">10</span>
<div style="left:187.4px;top:765.24px;width:45.5px;height:13.5px;background:#cbcbce;border-radius:7px;"></div>
<span class="t" style="left:193.40px;top:767.34px;font:400 9.2px 'Liberation Sans', sans-serif;line-height:11.04px;color:#3f3f46;letter-spacing:0.128px;-webkit-text-stroke:0.22px #3f3f46;">Website</span>
<span class="t" style="left:300.70px;top:767.44px;font:400 9.5px 'Liberation Sans', sans-serif;line-height:11.4px;color:#222;letter-spacing:0.073px;-webkit-text-stroke:0.22px #222;">06/01/2020</span>
<div style="left:375px;top:765.44px;width:59.7px;height:15.2px;background:#f0f0fd;border-radius:2px;border:1px solid #e4e4ec;box-sizing:border-box;"></div>
<span class="t" style="left:379.30px;top:768.44px;font:400 9.2px 'Liberation Sans', sans-serif;line-height:11.04px;color:#23232b;letter-spacing:0.042px;-webkit-text-stroke:0.22px #23232b;">Ross Jordan</span>
<div style="left:474.4px;top:765.24px;width:29.8px;height:13.5px;background:#d2303a;border-radius:7px;"></div>
<span class="t" style="left:480.70px;top:767.34px;font:400 9.2px 'Liberation Sans', sans-serif;line-height:11.04px;color:#fff;letter-spacing:0.142px;-webkit-text-stroke:0.22px #fff;">Lost</span>
<span class="t" style="left:565.00px;top:767.44px;font:400 9.5px 'Liberation Sans', sans-serif;line-height:11.4px;color:#222;letter-spacing:0.073px;-webkit-text-stroke:0.22px #222;">06/03/2020</span>
<div style="left:56px;top:804.6px;width:544px;height:0px;border-top:1px dotted #d4d4ea;"></div>
<div style="left:187.4px;top:810.3px;width:75.6px;height:13.5px;background:#d0dffa;border-radius:7px;"></div>
<span class="t" style="left:193.40px;top:812.40px;font:400 9.2px 'Liberation Sans', sans-serif;line-height:11.04px;color:#36405f;letter-spacing:0.143px;-webkit-text-stroke:0.22px #36405f;">Previous Client</span>
<span class="t" style="left:300.70px;top:812.50px;font:400 9.5px 'Liberation Sans', sans-serif;line-height:11.4px;color:#222;letter-spacing:0.073px;-webkit-text-stroke:0.22px #222;">01/01/2020</span>
<div style="left:375px;top:810.5px;width:69px;height:15.2px;background:#f0f0fd;border-radius:2px;border:1px solid #e4e4ec;box-sizing:border-box;"></div>
<span class="t" style="left:379.30px;top:813.50px;font:400 9.2px 'Liberation Sans', sans-serif;line-height:11.04px;color:#23232b;letter-spacing:0.215px;-webkit-text-stroke:0.22px #23232b;">Nancy Burnett</span>
<div style="left:474.4px;top:810.3px;width:30px;height:13.5px;background:#dff2d6;border-radius:7px;"></div>
<span class="t" style="left:480.70px;top:812.40px;font:400 9.2px 'Liberation Sans', sans-serif;line-height:11.04px;color:#33402f;letter-spacing:-0.167px;-webkit-text-stroke:0.22px #33402f;">Won</span>
<span class="t" style="left:565.00px;top:812.50px;font:400 9.5px 'Liberation Sans', sans-serif;line-height:11.4px;color:#222;letter-spacing:0.073px;-webkit-text-stroke:0.22px #222;">01/03/2020</span>
<div style="left:295px;top:354.5px;width:0px;height:470px;border-left:1px dotted #d4d4ea;"></div>
<div style="left:368.1px;top:354.5px;width:0px;height:470px;border-left:1px dotted #d4d4ea;"></div>
<div style="left:468.1px;top:354.5px;width:0px;height:470px;border-left:1px dotted #d4d4ea;"></div>
<div style="left:559.1px;top:354.5px;width:0px;height:470px;border-left:1px dotted #d4d4ea;"></div>
<div style="left:181px;top:330px;width:2px;height:509px;background:#cdcdd1;"></div>
<svg style="left:0;top:0" width="1080" height="1080" shape-rendering="crispEdges"><rect x="56" y="800" width="125" height="22" fill="url(#ch)"/></svg>
<div style="left:56px;top:821.5px;width:125px;height:1px;background:#dcdcdc;"></div>
<svg style="left:112.4px;top:809.2px;" width="7.6" height="7.6" viewBox="0 0 7.6 7.6"><path d="M3.8 0.4V7.2M0.4 3.8H7.2" stroke="#8a8a8a" stroke-width="1.3" fill="none"/></svg>
<svg style="left:0;top:0" width="1080" height="1080" shape-rendering="crispEdges"><rect x="56" y="823" width="544" height="21" fill="url(#pg)"/></svg>
<div style="left:181px;top:822px;width:2px;height:17px;background:#cdcdd1;"></div>
<span class="t" style="left:59.70px;top:829.20px;font:700 8.2px 'Liberation Sans', sans-serif;line-height:9.84px;color:#444;letter-spacing:-0.109px;">22</span>
<span class="t" style="left:71.40px;top:829.20px;font:400 8.2px 'Liberation Sans', sans-serif;line-height:9.84px;color:#666;-webkit-text-stroke:0.2px #666;">rows</span>
<div style="left:56px;top:838.7px;width:475.5px;height:5.2px;background:#a9a9a3;"></div>
<div style="left:599px;top:355px;width:1px;height:484px;background:#fcfcfe;"></div>
<div style="left:591px;top:331.2px;width:8px;height:226.5px;background:#aeaeae;border-radius:3.8px;"></div>
<svg style="left:0;top:0" width="1080" height="1080" shape-rendering="crispEdges"><rect x="600" y="303" width="5" height="541" fill="url(#hd)"/></svg>
<div style="left:601.3px;top:578.1px;width:2px;height:2px;background:#1a1a2a;border-radius:1px;"></div>
<div style="left:601.3px;top:582.3px;width:2px;height:2px;background:#1a1a2a;border-radius:1px;"></div>
<div style="left:601.3px;top:586.5px;width:2px;height:2px;background:#1a1a2a;border-radius:1px;"></div>
</section>
<aside>
<svg style="left:0;top:0" width="1080" height="1080" shape-rendering="crispEdges"><rect x="605" y="330" width="421" height="514" fill="url(#aw)"/></svg>
<svg style="left:0;top:0" width="1080" height="1080" shape-rendering="crispEdges"><rect x="605" y="302" width="421" height="29" fill="url(#ch)"/></svg>
<div style="left:605px;top:330px;width:421px;height:1px;background:#d6d6d4;"></div>
<svg style="left:620.2px;top:311.6px;" width="10.4" height="8.6" viewBox="0 0 10.4 8.6"><path d="M0.6 8C0 4 2 0.8 5.2 0.8S10.4 4 9.8 8Z" fill="#6b6b6b"/><path d="M5.2 6.6L7.4 3" stroke="#eee" stroke-width="0.9"/><circle cx="5.2" cy="6.4" r="1" fill="#eee"/></svg>
<span class="t" style="left:637.00px;top:311.40px;font:400 10.3px 'Liberation Sans', sans-serif;line-height:12.36px;color:#62626a;letter-spacing:0.066px;-webkit-text-stroke:0.45px #62626a;">Sales Tracking Dashboard</span>
<svg style="left:767.3px;top:314.8px;" width="6" height="4" viewBox="0 0 6 4"><path d="M0.3 0.4H5.7L3 3.6Z" fill="#333"/></svg>
<svg style="left:902.8px;top:312.6px;" width="7.4" height="7.4" viewBox="0 0 7.4 7.4"><path d="M3.7 0.3V7.1M0.3 3.7H7.1" stroke="#5a5a5a" stroke-width="1.4" fill="none"/></svg>
<span class="t" style="left:917.60px;top:312.10px;font:400 9.2px 'Liberation Sans', sans-serif;line-height:11.04px;color:#5c5c5c;letter-spacing:-0.035px;-webkit-text-stroke:0.25px #5c5c5c;">Add an App</span>
<svg style="left:985px;top:311.6px;" width="10" height="10" viewBox="0 0 10 10"><path d="M2.4 7.6L7.6 2.4" stroke="#222" stroke-width="1.2"/><path d="M5.6 0.8H9.2V4.4Z" fill="#222"/><path d="M0.8 5.6V9.2H4.4Z" fill="#222"/></svg>
<svg style="left:1004.3px;top:312.4px;" width="9" height="9" viewBox="0 0 9 9"><path d="M1.2 1.2L7.8 7.8M7.8 1.2L1.2 7.8" stroke="#222" stroke-width="2.1" fill="none"/></svg>
<div style="left:613px;top:341px;width:394px;height:223px;border:2px solid #dcdce0;border-radius:4px;box-sizing:border-box;"></div>
<h2 class="t" style="left:626.00px;top:354.20px;font:400 10.4px 'Liberation Sans', sans-serif;line-height:12.48px;color:#444;letter-spacing:0.141px;-webkit-text-stroke:0.2px #444;">Chart By Campaigns &amp; Stages</h2>
<svg style="left:633.5px;top:373.8px;" width="6" height="4" viewBox="0 0 6 4"><path d="M0.3 0.4H5.7L3 3.6Z" fill="#333"/></svg>
<svg style="left:805px;top:354.5px;" width="9" height="9" viewBox="0 0 9 9"><g stroke="#c4c4cc" stroke-width="0.8" fill="none"><path d="M0.5 3H8.5M0.5 6H8.5M3 0.5V8.5M6 0.5V8.5"/></g></svg>
<svg style="left:985px;top:353.5px;" width="10" height="10" viewBox="0 0 10 10"><path d="M2.4 7.6L7.6 2.4" stroke="#222" stroke-width="1.2"/><path d="M5.6 0.8H9.2V4.4Z" fill="#222"/><path d="M0.8 5.6V9.2H4.4Z" fill="#222"/></svg>
<svg style="left:999.6px;top:556.6px;" width="5" height="5" viewBox="0 0 5 5"><path d="M4.4 0.6V4.4H0.6" fill="none" stroke="#777" stroke-width="1"/></svg>
<div style="left:670.2px;top:516.64px;width:245.6px;height:1px;background:#ebebeb;"></div>
<div style="left:670.2px;top:501.28px;width:245.6px;height:1px;background:#cfcfcf;"></div>
<div style="left:670.2px;top:485.92px;width:245.6px;height:1px;background:#ebebeb;"></div>
<div style="left:670.2px;top:470.56px;width:245.6px;height:1px;background:#cfcfcf;"></div>
<div style="left:670.2px;top:455.2px;width:245.6px;height:1px;background:#ebebeb;"></div>
<div style="left:670.2px;top:439.84px;width:245.6px;height:1px;background:#cfcfcf;"></div>
<div style="left:670.2px;top:424.48px;width:245.6px;height:1px;background:#ebebeb;"></div>
<div style="left:670.2px;top:409.12px;width:245.6px;height:1px;background:#cfcfcf;"></div>
<span class="t" style="left:656.35px;top:527.70px;font:400 8.8px 'Liberation Sans', sans-serif;line-height:10.56px;color:#444;">0</span>
<span class="t" style="left:656.35px;top:496.98px;font:400 8.8px 'Liberation Sans', sans-serif;line-height:10.56px;color:#444;">2</span>
<span class="t" style="left:656.35px;top:466.26px;font:400 8.8px 'Liberation Sans', sans-serif;line-height:10.56px;color:#444;">4</span>
<span class="t" style="left:656.35px;top:435.54px;font:400 8.8px 'Liberation Sans', sans-serif;line-height:10.56px;color:#444;">6</span>
<span class="t" style="left:656.35px;top:404.82px;font:400 8.8px 'Liberation Sans', sans-serif;line-height:10.56px;color:#444;">8</span>
<div style="left:728.9px;top:517.94px;width:30.3px;height:14.56px;background:#dc3912;"></div>
<div style="left:728.9px;top:487.22px;width:30.3px;height:29.92px;background:#990099;"></div>
<div style="left:728.9px;top:441.14px;width:30.3px;height:45.28px;background:#0c98c8;"></div>
<div style="left:777.9px;top:517.94px;width:30.3px;height:14.56px;background:#dc3912;"></div>
<div style="left:777.9px;top:502.58px;width:30.3px;height:14.56px;background:#ff9900;"></div>
<div style="left:777.9px;top:471.86px;width:30.3px;height:29.92px;background:#109618;"></div>
<div style="left:777.9px;top:456.5px;width:30.3px;height:14.56px;background:#0c98c8;"></div>
<div style="left:826.9px;top:517.94px;width:30.3px;height:14.56px;background:#dc3912;"></div>
<div style="left:826.9px;top:502.58px;width:30.3px;height:14.56px;background:#109618;"></div>
<div style="left:826.9px;top:487.22px;width:30.3px;height:14.56px;background:#0c98c8;"></div>
<div style="left:875.6px;top:517.94px;width:30.3px;height:14.56px;background:#dc3912;"></div>
<div style="left:875.6px;top:487.22px;width:30.3px;height:29.92px;background:#ff9900;"></div>
<div style="left:875.6px;top:471.86px;width:30.3px;height:14.56px;background:#109618;"></div>
<div style="left:875.6px;top:425.78px;width:30.3px;height:45.28px;background:#0c98c8;"></div>
<div style="left:680px;top:531.8px;width:30.5px;height:0.7px;background:#8a8a80;"></div>
<div style="left:670.2px;top:532px;width:245.6px;height:1px;background:#333;"></div>
<span class="t" style="left:768.40px;top:534.60px;font:italic 400 8.8px 'Liberation Sans', sans-serif;line-height:10.56px;color:#222;letter-spacing:0.118px;">Deal Source</span>
<span class="t" style="left:604.80px;top:463.00px;font:italic 400 8.8px 'Liberation Sans', sans-serif;line-height:10.56px;color:#222;letter-spacing:0.171px;transform-origin:37.80px 8.00px;transform:rotate(-90deg);">Number of records</span>
<div style="left:925px;top:429.2px;width:18px;height:9.2px;background:#0c98c8;"></div>
<span class="t" style="left:946.80px;top:429.00px;font:400 9.1px 'Liberation Sans', sans-serif;line-height:10.92px;color:#222;-webkit-text-stroke:0.1px #222;">Won</span>
<div style="left:925px;top:443.95px;width:18px;height:9.2px;background:#990099;"></div>
<span class="t" style="left:946.80px;top:443.75px;font:400 9.1px 'Liberation Sans', sans-serif;line-height:10.92px;color:#222;-webkit-text-stroke:0.1px #222;">Upcoming</span>
<div style="left:925px;top:458.7px;width:18px;height:9.2px;background:#109618;"></div>
<span class="t" style="left:946.80px;top:458.50px;font:400 9.1px 'Liberation Sans', sans-serif;line-height:10.92px;color:#222;-webkit-text-stroke:0.1px #222;">Negotiat...</span>
<div style="left:925px;top:473.45px;width:18px;height:9.2px;background:#ff9900;"></div>
<span class="t" style="left:946.80px;top:473.25px;font:400 9.1px 'Liberation Sans', sans-serif;line-height:10.92px;color:#222;-webkit-text-stroke:0.1px #222;">Lost</span>
<div style="left:925px;top:488.2px;width:18px;height:9.2px;background:#dc3912;"></div>
<span class="t" style="left:946.80px;top:488.00px;font:400 9.1px 'Liberation Sans', sans-serif;line-height:10.92px;color:#222;-webkit-text-stroke:0.1px #222;">(Empty)</span>
<div style="left:925px;top:502.95px;width:18px;height:9.2px;background:#cdcdcd;"></div>
<div style="left:613px;top:574px;width:394px;height:106px;border:2px solid #dcdce0;border-radius:4px;box-sizing:border-box;"></div>
<h2 class="t" style="left:626.40px;top:586.60px;font:400 10.4px 'Liberation Sans', sans-serif;line-height:12.48px;color:#444;letter-spacing:0.085px;-webkit-text-stroke:0.2px #444;">Total Deal Pipeline</h2>
<svg style="left:722.3px;top:590.3px;" width="6" height="4" viewBox="0 0 6 4"><path d="M0.3 0.4H5.7L3 3.6Z" fill="#333"/></svg>
<svg style="left:805px;top:586.5px;" width="9" height="9" viewBox="0 0 9 9"><g stroke="#c4c4cc" stroke-width="0.8" fill="none"><path d="M0.5 3H8.5M0.5 6H8.5M3 0.5V8.5M6 0.5V8.5"/></g></svg>
<svg style="left:985px;top:586px;" width="10" height="10" viewBox="0 0 10 10"><path d="M2.4 7.6L7.6 2.4" stroke="#222" stroke-width="1.2"/><path d="M5.6 0.8H9.2V4.4Z" fill="#222"/><path d="M0.8 5.6V9.2H4.4Z" fill="#222"/></svg>
<svg style="left:999.6px;top:672.6px;" width="5" height="5" viewBox="0 0 5 5"><path d="M4.4 0.6V4.4H0.6" fill="none" stroke="#777" stroke-width="1"/></svg>
<span class="t" style="left:736.75px;top:600.70px;font:700 43px 'Liberation Serif', serif;line-height:51.6px;color:#3068f5;letter-spacing:-0.667px;-webkit-text-stroke:0.3px #3068f5;">$147220</span>
<span class="t" style="left:700.25px;top:650.90px;font:700 14.4px 'Liberation Serif', serif;line-height:17.28px;color:#777;letter-spacing:-0.214px;">TOTAL DEAL VALUE (PIPELINE)</span>
<div style="left:613px;top:690.2px;width:394px;height:170px;border:2px solid #dcdce0;border-radius:4px;box-sizing:border-box;"></div>
<h2 class="t" style="left:625.80px;top:703.00px;font:400 10.4px 'Liberation Sans', sans-serif;line-height:12.48px;color:#444;letter-spacing:0.083px;-webkit-text-stroke:0.2px #444;">Pivot By Sales Value ($)</h2>
<svg style="left:747.3px;top:706.6px;" width="6" height="4" viewBox="0 0 6 4"><path d="M0.3 0.4H5.7L3 3.6Z" fill="#333"/></svg>
<svg style="left:805px;top:703px;" width="9" height="9" viewBox="0 0 9 9"><g stroke="#c4c4cc" stroke-width="0.8" fill="none"><path d="M0.5 3H8.5M0.5 6H8.5M3 0.5V8.5M6 0.5V8.5"/></g></svg>
<svg style="left:985px;top:702.5px;" width="10" height="10" viewBox="0 0 10 10"><path d="M2.4 7.6L7.6 2.4" stroke="#222" stroke-width="1.2"/><path d="M5.6 0.8H9.2V4.4Z" fill="#222"/><path d="M0.8 5.6V9.2H4.4Z" fill="#222"/></svg>
<span class="t" style="left:797.85px;top:739.60px;font:700 9.6px 'Liberation Serif', serif;line-height:11.52px;color:#444;letter-spacing:0.438px;">Deal Source</span>
<span class="t" style="left:630.20px;top:852.20px;font:700 9.6px 'Liberation Serif', serif;line-height:11.52px;color:#333;letter-spacing:0.729px;transform-origin:0.00px 9.00px;transform:rotate(-90deg);">Deal Stage</span>
<svg style="left:0;top:0" width="1080" height="1080" shape-rendering="crispEdges"><rect x="779" y="794" width="211" height="50" fill="url(#ch)"/></svg>
<div style="left:638px;top:766.4px;width:1.3px;height:86px;background:#dcdce6;"></div>
<div style="left:778px;top:766.4px;width:1.3px;height:86px;background:#dcdce6;"></div>
<div style="left:813.8px;top:766.4px;width:1.3px;height:86px;background:#dcdce6;"></div>
<div style="left:848.9px;top:766.4px;width:1.3px;height:86px;background:#dcdce6;"></div>
<div style="left:883.9px;top:766.4px;width:1.3px;height:86px;background:#dcdce6;"></div>
<div style="left:919.4px;top:766.4px;width:1.3px;height:86px;background:#dcdce6;"></div>
<div style="left:954.4px;top:766.4px;width:1.3px;height:86px;background:#dcdce6;"></div>
<div style="left:989.4px;top:766.4px;width:1.3px;height:86px;background:#dcdce6;"></div>
<div style="left:638.6px;top:765.8px;width:351.4px;height:1.3px;background:#dcdce6;"></div>
<div style="left:638.6px;top:793.6px;width:351.4px;height:1.3px;background:#dcdce6;"></div>
<div style="left:638.6px;top:822.7px;width:351.4px;height:1.3px;background:#dcdce6;"></div>
<div style="left:784.2px;top:774.6px;width:26.4px;height:13.2px;background:#cbe6f6;border-radius:5px;"></div>
<span class="t" style="left:791.31px;top:776.30px;font:700 8.6px 'Liberation Serif', serif;line-height:10.32px;color:#3a4656;">E...</span>
<div style="left:819.4px;top:774.6px;width:26.4px;height:13.2px;background:#c8c8ca;border-radius:5px;"></div>
<span class="t" style="left:825.48px;top:776.30px;font:700 8.6px 'Liberation Serif', serif;line-height:10.32px;color:#444;">W...</span>
<div style="left:854.4px;top:774.6px;width:26.4px;height:13.2px;background:#ccdcfb;border-radius:5px;"></div>
<span class="t" style="left:860.23px;top:776.30px;font:700 8.6px 'Liberation Serif', serif;line-height:10.32px;color:#36405f;">Pr...</span>
<div style="left:889.6px;top:774.6px;width:26.4px;height:13.2px;background:#ccdcfb;border-radius:5px;"></div>
<span class="t" style="left:894.71px;top:776.30px;font:700 8.6px 'Liberation Serif', serif;line-height:10.32px;color:#36405f;">Vo...</span>
<span class="t" style="left:923.40px;top:775.60px;font:700 8.6px 'Liberation Serif', serif;line-height:10.32px;color:#444;letter-spacing:0.414px;">Empty</span>
<span class="t" style="left:958.80px;top:775.60px;font:700 8.6px 'Liberation Serif', serif;line-height:10.32px;color:#333;letter-spacing:0.201px;">Total</span>
<div style="left:644px;top:803px;width:29.4px;height:14.3px;background:#dff2d6;border-radius:7px;"></div>
<span class="t" style="left:650.10px;top:805.25px;font:700 8.6px 'Liberation Serif', serif;line-height:10.32px;color:#333;">Won</span>
<div style="left:644px;top:832.4px;width:56.4px;height:14.3px;background:#ffedb6;border-radius:7px;"></div>
<span class="t" style="left:650.95px;top:834.65px;font:700 8.6px 'Liberation Serif', serif;line-height:10.32px;color:#4a4020;">Negotiating</span>
<span class="t" style="left:782.00px;top:797.60px;font:400 9px 'Liberation Serif', serif;line-height:10.8px;color:#222;letter-spacing:0.158px;-webkit-text-stroke:0.15px #222;">$22,500</span>
<div style="left:782.4px;top:814.4px;width:27px;height:5.4px;background:#c4c4c6;border-radius:2.7px;"></div>
<span class="t" style="left:817.20px;top:797.60px;font:400 9px 'Liberation Serif', serif;line-height:10.8px;color:#222;letter-spacing:0.158px;-webkit-text-stroke:0.15px #222;">$23,850</span>
<div style="left:817.5px;top:814.4px;width:27px;height:5.4px;background:#c4c4c6;border-radius:2.7px;"></div>
<span class="t" style="left:855.60px;top:803.40px;font:400 9px 'Liberation Serif', serif;line-height:10.8px;color:#222;letter-spacing:0.170px;-webkit-text-stroke:0.15px #222;">$7,060</span>
<span class="t" style="left:913.40px;top:803.40px;font:400 9px 'Liberation Serif', serif;line-height:10.8px;color:#222;-webkit-text-stroke:0.15px #222;">-</span>
<span class="t" style="left:947.10px;top:803.40px;font:400 9px 'Liberation Serif', serif;line-height:10.8px;color:#222;-webkit-text-stroke:0.15px #222;">0</span>
<span class="t" style="left:958.20px;top:797.60px;font:700 9px 'Liberation Serif', serif;line-height:10.8px;color:#222;letter-spacing:0.158px;">$53,410</span>
<div style="left:958.4px;top:814.4px;width:27px;height:5.4px;background:#c4c4c6;border-radius:2.7px;"></div>
<span class="t" style="left:786.60px;top:832.60px;font:400 9px 'Liberation Serif', serif;line-height:10.8px;color:#222;letter-spacing:0.170px;-webkit-text-stroke:0.15px #222;">$9,900</span>
<span class="t" style="left:817.20px;top:826.60px;font:400 9px 'Liberation Serif', serif;line-height:10.8px;color:#222;letter-spacing:0.158px;-webkit-text-stroke:0.15px #222;">$14,000</span>
<span class="t" style="left:852.40px;top:826.60px;font:400 9px 'Liberation Serif', serif;line-height:10.8px;color:#222;letter-spacing:0.158px;-webkit-text-stroke:0.15px #222;">$15,780</span>
<span class="t" style="left:887.40px;top:826.60px;font:400 9px 'Liberation Serif', serif;line-height:10.8px;color:#222;letter-spacing:0.158px;-webkit-text-stroke:0.15px #222;">$15,380</span>
<span class="t" style="left:948.60px;top:832.60px;font:400 9px 'Liberation Serif', serif;line-height:10.8px;color:#222;-webkit-text-stroke:0.15px #222;">-</span>
<span class="t" style="left:958.20px;top:826.60px;font:700 9px 'Liberation Serif', serif;line-height:10.8px;color:#222;letter-spacing:0.158px;">$55,060</span>
<div style="left:1022.6px;top:330.7px;width:3.4px;height:513.3px;background:#e2e2e6;"></div>
<div style="left:1022.6px;top:330.7px;width:3.4px;height:139.5px;background:#9a9a9a;"></div>
</aside>
<svg style="left:0;top:0" width="1080" height="1080" shape-rendering="crispEdges"><rect x="0" y="844" width="1080" height="236" fill="url(#pg)"/><rect x="1026" y="0" width="54" height="1080" fill="url(#pg)"/></svg>
</main>
</body>
</html>
